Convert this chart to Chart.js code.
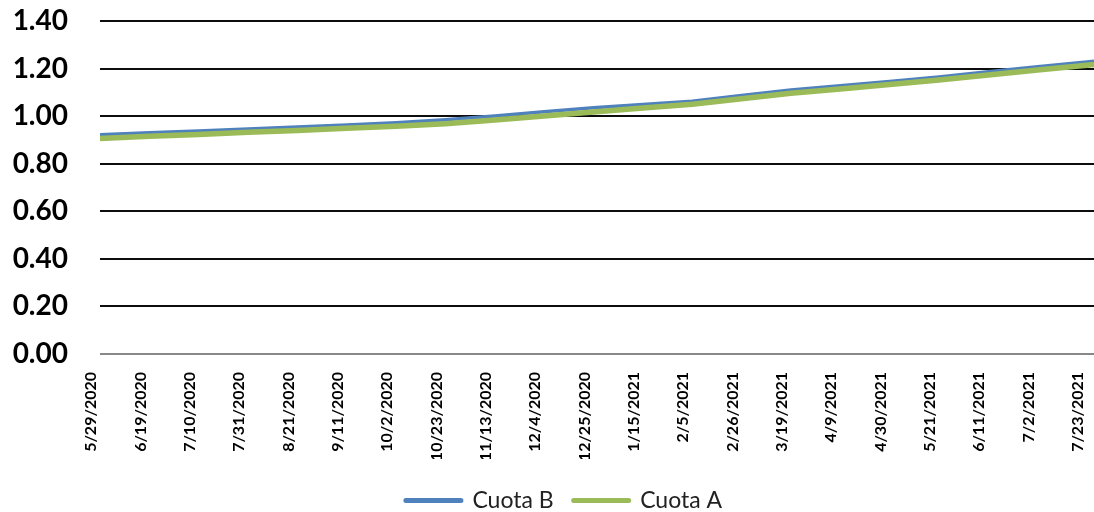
<!DOCTYPE html>
<html>
<head>
<meta charset="utf-8">
<script src="https://cdn.jsdelivr.net/npm/chart.js@4"></script>
<style>
    body { margin: 0; background: #fff; }
    #wrap { width: 1094px; height: 512px; position: relative; }
</style>
</head>
<body>
<div id="wrap"><canvas id="plot"></canvas></div>
<script>
// one point every 21 days plus the last day shown
var dates = ["2020-05-29", "2020-06-19", "2020-07-10", "2020-07-31", "2020-08-21",
    "2020-09-11", "2020-10-02", "2020-10-23", "2020-11-13", "2020-12-04",
    "2020-12-25", "2021-01-15", "2021-02-05", "2021-02-26", "2021-03-19",
    "2021-04-09", "2021-04-30", "2021-05-21", "2021-06-11", "2021-07-02",
    "2021-07-23", "2021-07-26"];
var cuotaB = [0.922, 0.930, 0.938, 0.946, 0.954, 0.963, 0.972, 0.985, 1.001, 1.018,
    1.035, 1.049, 1.063, 1.087, 1.110, 1.128, 1.146, 1.165, 1.187, 1.208, 1.228, 1.231];
var cuotaA = [0.906, 0.915, 0.923, 0.932, 0.940, 0.949, 0.958, 0.968, 0.984, 1.001,
    1.017, 1.034, 1.050, 1.073, 1.096, 1.114, 1.133, 1.152, 1.173, 1.194, 1.214, 1.217];
var seriesNames = ["Cuota B", "Cuota A"];
var yTicks = [0, 0.2, 0.4, 0.6, 0.8, 1.0, 1.2, 1.4];

var DAY = 86400000;
var start = Date.parse(dates[0]);

function dayOf(s) {
    return Math.round((Date.parse(s) - start) / DAY);
}

function fmtDate(d) {
    var dt = new Date(start + d * DAY);
    return (dt.getUTCMonth() + 1) + "/" + dt.getUTCDate() + "/" + dt.getUTCFullYear();
}

function points(vals) {
    return vals.map((v, i) => {
        return {x: dayOf(dates[i]), y: v}
    });
}

function noPadding(scale) {
    scale.paddingTop = 0;
    scale.paddingBottom = 0;
    scale.paddingLeft = 0;
    scale.paddingRight = 0;
}

// nudge the legend to where excel put it
var legendShift = {
    id: "legendShift",
    afterLayout: function(c) {
        var l = c.legend;
        l.left += 17; l.right += 17;
        l.top += 10; l.bottom += 10;
    }
};

var chart = new Chart(document.getElementById("plot"), {
    type: "line",
    data: {
        datasets: [
        {
            label: seriesNames[0],
            data: points(cuotaB),
            borderColor: "#4f81bd",
            backgroundColor: "#4f81bd",
            borderWidth: 3.5,
            pointRadius: 0,
            order: 1,
        },
        {
            label: seriesNames[1],
            data: points(cuotaA),
            borderColor: "#9bbb59",
            backgroundColor: "#9bbb59",
            borderWidth: 5.5,
            pointRadius: 0,
            order: 0,   // green drawn over blue
        },
        ]
    },
    plugins: [legendShift],
    options: {
        animation: false,
        responsive: true,
        maintainAspectRatio: false,
        layout: {
            autoPadding: false,
            padding: {top: 21, left: 0, right: 0, bottom: 0}
        },
        scales: {
            x: {
                type: "linear",
                min: 0,
                max: dayOf(dates[dates.length - 1]),
                border: {display: false},
                grid: {display: false, drawTicks: false},
                afterFit: function(scale) {
                    scale.height = 105;
                    noPadding(scale);
                },
                ticks: {
                    stepSize: 21,
                    includeBounds: false,
                    autoSkip: false,
                    minRotation: 90,
                    maxRotation: 90,
                    padding: 18,
                    labelOffset: -9,
                    color: "#000",
                    font: {family: "Lato", weight: "bold", size: 16},
                    callback: function(v) { return fmtDate(v); }
                }
            },
            y: {
                min: yTicks[0],
                max: yTicks[yTicks.length - 1],
                border: {display: false},
                afterFit: function(scale) {
                    scale.width = 100;
                    noPadding(scale);
                },
                grid: {
                    drawTicks: false,
                    lineWidth: 2,
                    color: function(ctx) {
                        return ctx.tick && ctx.tick.value == 0 ? "#888888" : "#0d0d0d";
                    }
                },
                ticks: {
                    stepSize: 0.2,
                    padding: 32,
                    color: "#000",
                    font: {family: "Lato", weight: "bold", size: 28},
                    callback: function(v) { return v.toFixed(2); }
                }
            }
        },
        plugins: {
            tooltip: {enabled: false},
            legend: {
                position: "bottom",
                labels: {
                    usePointStyle: true,
                    pointStyle: "line",
                    pointStyleWidth: 55,
                    padding: 20,
                    color: "#222",
                    font: {family: "Lato", size: 23},
                    sort: function(a, b) { return a.datasetIndex - b.datasetIndex; },
                    generateLabels: function(chart) {
                        var items = Chart.defaults.plugins.legend.labels.generateLabels(chart);
                        items.forEach(function(it) {
                            it.lineWidth = 5;
                            it.lineCap = "round";
                        });
                        return items;
                    }
                }
            }
        }
    }
});
</script>
</body>
</html>
